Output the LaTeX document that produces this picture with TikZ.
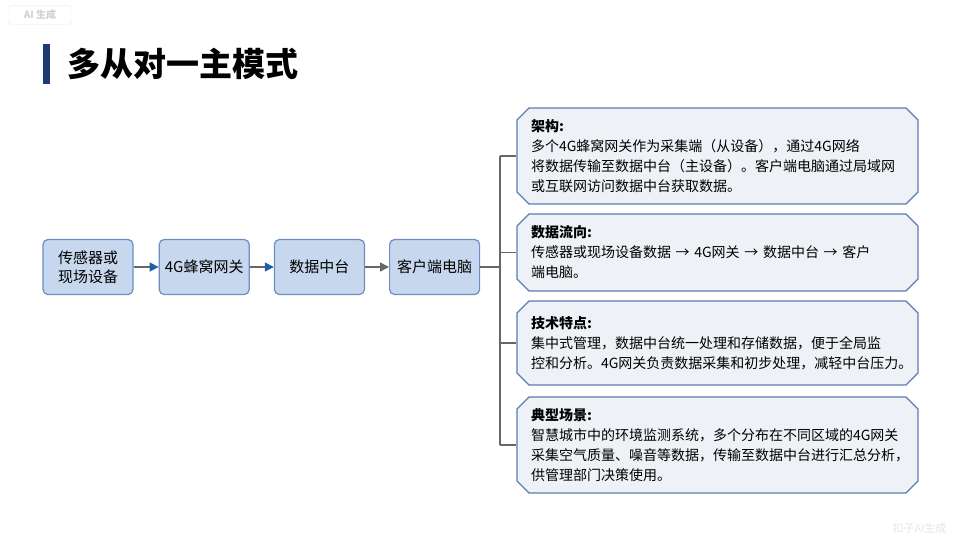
\documentclass[tikz,border=0pt]{standalone}
\usepackage{fontspec}
\setmainfont{Noto Sans CJK SC}
\usetikzlibrary{positioning,arrows.meta,shapes.misc}
\definecolor{navy}{HTML}{1F3A6E}
\definecolor{flowfill}{HTML}{C7D8EE}
\definecolor{flowline}{HTML}{6D8EC0}
\definecolor{cardfill}{HTML}{EEF2F6}
\definecolor{cardline}{HTML}{5B7DB1}
\definecolor{linkgray}{HTML}{666666}
\definecolor{tipblue}{HTML}{1F5FAA}
\begin{document}
\begin{tikzpicture}[
  x=1pt, y=-1pt,
  every node/.style={font=\fontsize{15}{19}\selectfont},
  flowbox/.style={draw=flowline, fill=flowfill, line width=1.2pt, rounded corners=5pt,
    minimum width=90pt, minimum height=55pt, align=center, inner sep=2pt},
  card/.style={chamfered rectangle, chamfered rectangle xsep=6pt, chamfered rectangle ysep=6pt,
    draw=cardline, fill=cardfill, line width=1.2pt, minimum width=399pt,
    text width=373pt, inner xsep=8pt, inner ysep=0pt, align=left,
    font=\fontsize{14}{20}\selectfont},
  link/.style={draw=linkgray, line width=1.5pt},
  arrowblue/.style={link, -{Triangle[length=9pt, width=9pt, color=tipblue]}},
  arrowgray/.style={link, -{Triangle[length=9pt, width=9pt]}}
]
  \useasboundingbox (0,0) rectangle (960,540);

  % Watermarks
  \node[draw=black!10, rounded corners=4pt, text=black!18, font=\fontsize{10}{12}\selectfont\bfseries,
    minimum width=64pt, minimum height=19pt, inner sep=1pt] (mark) at (40,15) {AI 生成};
  \node[text=black!10, font=\fontsize{11}{12}\selectfont, anchor=east] (markb) at (950,528) {扣子AI生成};

  % Title
  \fill[navy] (43,44) rectangle (50,84);
  \node[anchor=west, font=\fontsize{33}{36}\selectfont\bfseries] (title) at (64,64) {多从对一主模式};

  % Flow chain
  \node[flowbox] (sensor) at (88,267) {传感器或\\现场设备};
  \node[flowbox, right=25pt of sensor] (gateway) {4G蜂窝网关};
  \node[flowbox, right=24pt of gateway] (hub) {数据中台};
  \node[flowbox, right=24pt of hub] (client) {客户端电脑};

  \draw[arrowblue] (sensor) -- (gateway);
  \draw[arrowblue] (gateway) -- (hub);
  \draw[arrowgray] (hub) -- (client);

  % Detail cards
  \node[card, minimum height=96pt] (arch) at (717.5,156)
    {\textbf{架构:}\\多个4G蜂窝网关作为采集端（从设备），通过4G网络\\将数据传输至数据中台（主设备）。客户端电脑通过局域网\\或互联网访问数据中台获取数据。};
  \node[card, minimum height=77pt] (flow) at (717.5,252.5)
    {\textbf{数据流向:}\\传感器或现场设备数据 → 4G网关 → 数据中台 → 客户\\端电脑。};
  \node[card, minimum height=84pt] (feat) at (717.5,343)
    {\textbf{技术特点:}\\集中式管理，数据中台统一处理和存储数据，便于全局监\\控和分析。4G网关负责数据采集和初步处理，减轻中台压力。};
  \node[card, minimum height=96pt] (scene) at (717.5,445)
    {\textbf{典型场景:}\\智慧城市中的环境监测系统，多个分布在不同区域的4G网关\\采集空气质量、噪音等数据，传输至数据中台进行汇总分析，\\供管理部门决策使用。};

  % Trunk to cards
  \coordinate (trunk) at (500,267);
  \draw[link] (client.east) -- (trunk);
  \draw[link] (trunk |- arch.west) -- (trunk |- scene.west);
  \foreach \c in {arch, flow, feat, scene}
    \draw[link] (trunk |- \c.west) -- (\c.west);
\end{tikzpicture}
\end{document}
